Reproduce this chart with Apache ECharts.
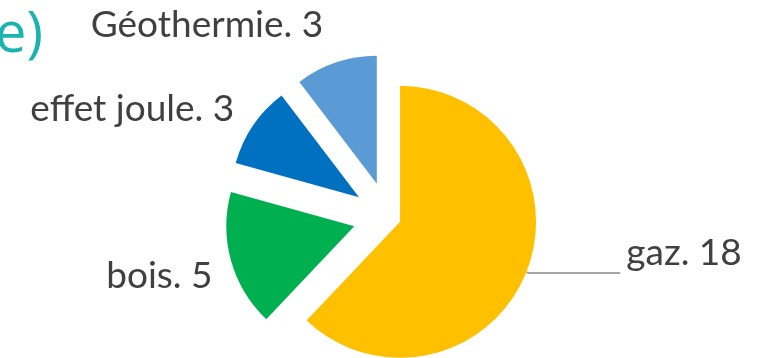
<!DOCTYPE html>
<html>
<head>
<meta charset="utf-8">
<script src="https://cdn.jsdelivr.net/npm/echarts@6/dist/echarts.min.js"></script>
<style>
html,body{margin:0;padding:0;background:#fff;}
#c{width:764px;height:358px;}
</style>
</head>
<body>
<div id="c"></div>
<script>
const categories = ['gaz', 'bois', 'effet joule', 'Géothermie'];
const values = [18, 5, 3, 3];
const colors = ['#FFC000', '#00B050', '#0070C0', '#5B9BD5'];
const titleFragment = 'e)';

const FONT = 'Lato';
const labelBase = {
  show: true,
  position: 'outside',
  color: '#404040',
  fontFamily: FONT,
  fontSize: 37,
  distanceToLabelLine: 0
};

// per-item label tuning (presentation only)
const itemLabel = {
  'gaz': {
    label: { formatter: p => p.name + '. ' + p.value + '\n ', lineHeight: 40, distanceToLabelLine: 6 },
    labelLine: { show: true, length: 2, length2: 92 }
  },
  'bois': {
    label: { formatter: p => ' \n' + p.name + '. ' + p.value, lineHeight: 22, distanceToLabelLine: 4 },
    labelLine: { show: false, length: 15, length2: 0 }
  },
  'effet joule': {
    label: { formatter: p => p.name + '. ' + p.value, distanceToLabelLine: -6 },
    labelLine: { show: false, length: 30, length2: 0 }
  },
  'Géothermie': {
    label: { formatter: p => p.name + '. ' + p.value, distanceToLabelLine: 0 },
    labelLine: { show: false, length: 40, length2: 0 }
  }
};

const bigData = categories.map((c, i) => {
  const isGaz = i === 0;
  return {
    name: c,
    value: values[i],
    selected: isGaz,
    itemStyle: { color: isGaz ? colors[i] : 'rgba(0,0,0,0)' },
    label: isGaz ? Object.assign({}, labelBase, itemLabel[c].label) : { show: false },
    labelLine: isGaz ? itemLabel[c].labelLine : { show: false }
  };
});

const smallData = categories.map((c, i) => {
  const isGaz = i === 0;
  return {
    name: c,
    value: values[i],
    selected: !isGaz,
    itemStyle: { color: isGaz ? 'rgba(0,0,0,0)' : colors[i] },
    label: isGaz ? { show: false } : Object.assign({}, labelBase, itemLabel[c].label),
    labelLine: isGaz ? { show: false } : itemLabel[c].labelLine
  };
});

const chart = echarts.init(document.getElementById('c'), null, { renderer: 'canvas' });
chart.setOption({
  animation: false,
  backgroundColor: '#ffffff',
  graphic: [{
    type: 'text',
    left: -5,
    top: 8,
    style: { text: titleFragment, fill: '#19B3B0', font: '56px "Open Sans"' }
  }],
  series: [
    {
      type: 'pie',
      silent: true,
      center: [388, 217],
      radius: [0, 136],
      startAngle: 90,
      clockwise: true,
      selectedMode: 'multiple',
      selectedOffset: 13,
      avoidLabelOverlap: false,
      labelLine: { lineStyle: { color: '#A6A6A6', width: 2 }, smooth: false },
      itemStyle: { borderWidth: 0 },
      data: bigData
    },
    {
      type: 'pie',
      silent: true,
      center: [388, 217],
      radius: [0, 128],
      startAngle: 90,
      clockwise: true,
      selectedMode: 'multiple',
      selectedOffset: 35,
      avoidLabelOverlap: false,
      labelLine: { lineStyle: { color: '#A6A6A6', width: 2 } },
      itemStyle: { borderWidth: 0 },
      data: smallData
    }
  ]
});
</script>
</body>
</html>
